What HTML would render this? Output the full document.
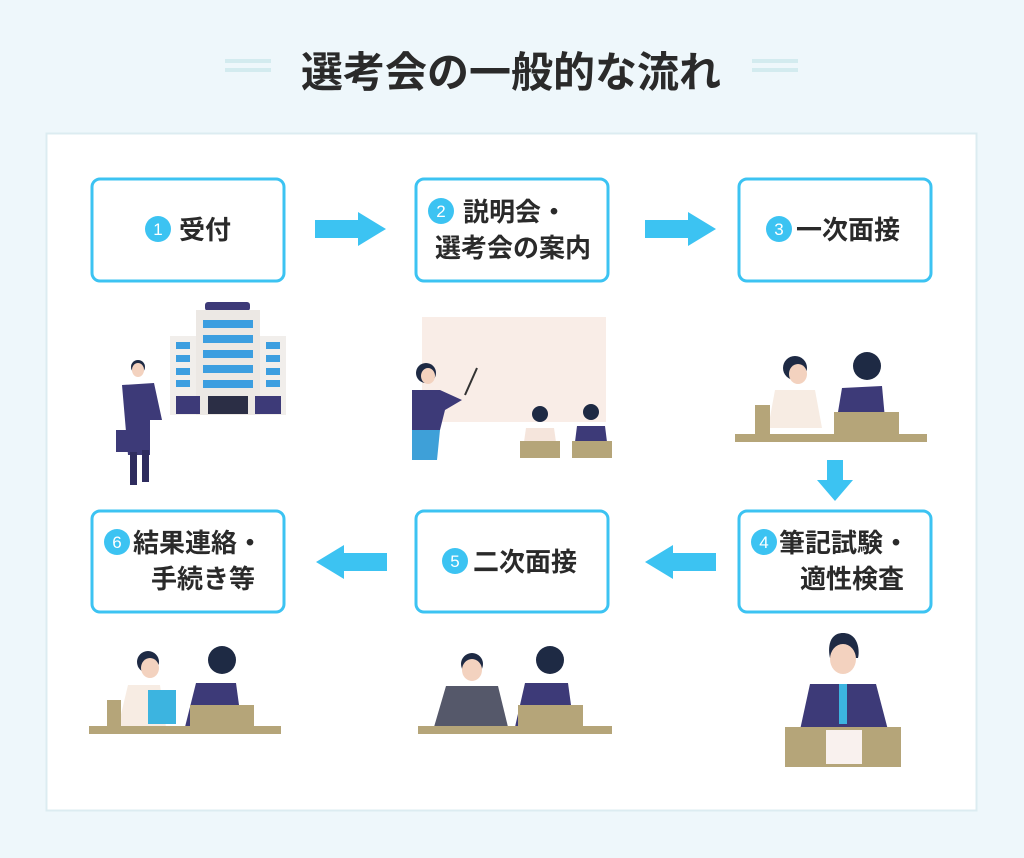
<!DOCTYPE html>
<html><head><meta charset="utf-8"><style>
html,body{margin:0;padding:0;background:#eef7fb;}
svg{display:block}
text{font-family:"Liberation Sans","Noto Sans CJK JP",sans-serif;font-weight:bold;fill:#2a2a2a}
</style></head><body>
<svg width="1024" height="858" viewBox="0 0 1024 858" xmlns="http://www.w3.org/2000/svg">
<rect width="1024" height="858" fill="#eef7fb"/>
<rect x="225" y="59" width="46" height="4" fill="#d3ebef"/><rect x="225" y="68" width="46" height="4" fill="#d3ebef"/>
<rect x="752" y="59" width="46" height="4" fill="#d3ebef"/><rect x="752" y="68" width="46" height="4" fill="#d3ebef"/>
<text x="511" y="87" font-size="42" text-anchor="middle">選考会の一般的な流れ</text>
<rect x="46.5" y="133.5" width="930" height="677" fill="#fff" stroke="#dcecf1" stroke-width="2"/>
<g fill="#fff" stroke="#3cc3f2" stroke-width="3">
<rect x="92" y="179" width="192" height="102" rx="8"/>
<rect x="416" y="179" width="192" height="102" rx="8"/>
<rect x="739" y="179" width="192" height="102" rx="8"/>
<rect x="92" y="511" width="192" height="101" rx="8"/>
<rect x="416" y="511" width="192" height="101" rx="8"/>
<rect x="739" y="511" width="192" height="101" rx="8"/>
</g>
<g fill="#3cc3f2">
<polygon points="315,220 358,220 358,212 386,229 358,246 358,238 315,238"/>
<polygon points="645,220 688,220 688,212 716,229 688,246 688,238 645,238"/>
<polygon points="387,553 344,553 344,545 316,562 344,579 344,571 387,571"/>
<polygon points="716,553 673,553 673,545 645,562 673,579 673,571 716,571"/>
<polygon points="827,460 843,460 843,480 853,480 835,501 817,480 827,480"/>
</g>
<g fill="#3cc3f2">
<circle cx="158" cy="229" r="13"/><circle cx="441" cy="211" r="13"/><circle cx="779" cy="229" r="13"/>
<circle cx="764" cy="542" r="13"/><circle cx="455" cy="561" r="13"/><circle cx="117" cy="542" r="13"/>
</g>
<g font-size="17">
<text x="158" y="235" text-anchor="middle" style="fill:#fff;font-weight:normal">1</text>
<text x="441" y="217" text-anchor="middle" style="fill:#fff;font-weight:normal">2</text>
<text x="779" y="235" text-anchor="middle" style="fill:#fff;font-weight:normal">3</text>
<text x="764" y="548" text-anchor="middle" style="fill:#fff;font-weight:normal">4</text>
<text x="455" y="567" text-anchor="middle" style="fill:#fff;font-weight:normal">5</text>
<text x="117" y="548" text-anchor="middle" style="fill:#fff;font-weight:normal">6</text>
</g>
<g font-size="26">
<text x="179" y="239">受付</text>
<text x="463" y="221">説明会・</text>
<text x="435" y="257">選考会の案内</text>
<text x="796" y="239">一次面接</text>
<text x="779" y="552">筆記試験・</text>
<text x="800" y="588">適性検査</text>
<text x="473" y="571">二次面接</text>
<text x="133" y="552">結果連絡・</text>
<text x="151" y="588">手続き等</text>
</g>
<!-- ill 1 -->
<rect x="205" y="302" width="45" height="9" rx="3" fill="#3d3a78"/>
<rect x="196" y="310" width="64" height="105" fill="#ece8e4"/>
<rect x="170" y="336" width="26" height="79" fill="#f1eeeb"/><rect x="260" y="336" width="26" height="79" fill="#f1eeeb"/>
<g fill="#3c9ee0">
<rect x="203" y="320" width="50" height="8"/><rect x="203" y="335" width="50" height="8"/><rect x="203" y="350" width="50" height="8"/><rect x="203" y="365" width="50" height="8"/><rect x="203" y="380" width="50" height="8"/>
<rect x="176" y="342" width="14" height="7"/><rect x="176" y="355" width="14" height="7"/><rect x="176" y="368" width="14" height="7"/><rect x="176" y="380" width="14" height="7"/>
<rect x="266" y="342" width="14" height="7"/><rect x="266" y="355" width="14" height="7"/><rect x="266" y="368" width="14" height="7"/><rect x="266" y="380" width="14" height="7"/>
</g>
<rect x="176" y="396" width="24" height="18" fill="#3d3a78"/><rect x="208" y="396" width="40" height="18" fill="#2b2e45"/><rect x="255" y="396" width="26" height="18" fill="#3d3a78"/>
<circle cx="138" cy="367" r="7" fill="#1e2a44"/><ellipse cx="138" cy="370" rx="6" ry="7" fill="#f3d2bf"/>
<path d="M122,385 L154,383 L162,420 L150,420 L150,455 L128,455 L125,420 Z" fill="#3d3a78"/>
<rect x="130" y="450" width="7" height="35" fill="#2e2c5e"/><rect x="142" y="450" width="7" height="32" fill="#2e2c5e"/>
<rect x="116" y="430" width="24" height="22" fill="#3d3a78"/>
<!-- ill 2 -->
<rect x="422" y="317" width="184" height="105" fill="#f9ede7"/>
<line x1="465" y1="395" x2="477" y2="368" stroke="#333" stroke-width="2"/>
<circle cx="426" cy="373" r="10" fill="#1e2a44"/><ellipse cx="428" cy="376" rx="7" ry="8" fill="#f3d2bf"/>
<path d="M412,390 L440,390 L462,400 L445,410 L440,430 L412,430 Z" fill="#3d3a78"/>
<path d="M412,430 L440,430 L437,460 L412,460 Z" fill="#3ea0d8"/>
<circle cx="540" cy="414" r="8" fill="#1e2a44"/><path d="M526,428 L554,428 L556,442 L524,442Z" fill="#f5e5dc"/>
<circle cx="591" cy="412" r="8" fill="#1e2a44"/><path d="M577,426 L605,426 L607,442 L575,442Z" fill="#3d3a78"/>
<rect x="520" y="441" width="40" height="17" fill="#b5a579"/><rect x="572" y="441" width="40" height="17" fill="#b5a579"/>
<!-- ill 3 -->
<circle cx="795" cy="368" r="12" fill="#1e2a44"/><ellipse cx="798" cy="374" rx="9" ry="10" fill="#f3d2bf"/>
<path d="M775,390 L815,390 L822,428 L768,428Z" fill="#f7ece3"/>
<circle cx="867" cy="366" r="14" fill="#1e2a44"/>
<path d="M842,388 L882,386 L886,430 L835,430Z" fill="#3d3a78"/>
<rect x="755" y="405" width="15" height="30" fill="#b5a579"/><rect x="834" y="412" width="65" height="22" fill="#b5a579"/>
<rect x="735" y="434" width="192" height="8" fill="#b5a579"/>
<!-- ill 4 -->
<path d="M843,633 C828,633 828,650 830,658 L858,658 C860,650 858,633 843,633Z" fill="#1e2a44"/>
<ellipse cx="843" cy="659" rx="13" ry="15" fill="#f3d2bf"/>
<path d="M810,684 L876,684 L888,730 L800,730Z" fill="#3d3a78"/>
<rect x="839" y="684" width="8" height="40" fill="#3cb4e0"/>
<rect x="785" y="727" width="116" height="40" fill="#b5a579"/>
<rect x="826" y="730" width="36" height="34" fill="#f9f1ee"/>
<!-- ill 5 -->
<circle cx="472" cy="664" r="11" fill="#1e2a44"/><ellipse cx="472" cy="670" rx="10" ry="11" fill="#f3d2bf"/>
<path d="M446,686 L498,686 L508,727 L434,727Z" fill="#55586a"/>
<circle cx="550" cy="660" r="14" fill="#1e2a44"/>
<path d="M525,683 L568,683 L574,727 L515,727Z" fill="#3d3a78"/>
<rect x="518" y="705" width="65" height="22" fill="#b5a579"/>
<rect x="418" y="726" width="194" height="8" fill="#b5a579"/>
<!-- ill 6 -->
<circle cx="148" cy="662" r="11" fill="#1e2a44"/><ellipse cx="150" cy="668" rx="9" ry="10" fill="#f3d2bf"/>
<path d="M128,685 L160,685 L166,727 L118,727Z" fill="#f7ece3"/>
<rect x="148" y="690" width="28" height="34" fill="#3cb4e0"/>
<circle cx="222" cy="660" r="14" fill="#1e2a44"/>
<path d="M196,683 L236,683 L242,727 L185,727Z" fill="#3d3a78"/>
<rect x="107" y="700" width="14" height="27" fill="#b5a579"/><rect x="190" y="705" width="64" height="22" fill="#b5a579"/>
<rect x="89" y="726" width="192" height="8" fill="#b5a579"/>
</svg>
</body></html>
